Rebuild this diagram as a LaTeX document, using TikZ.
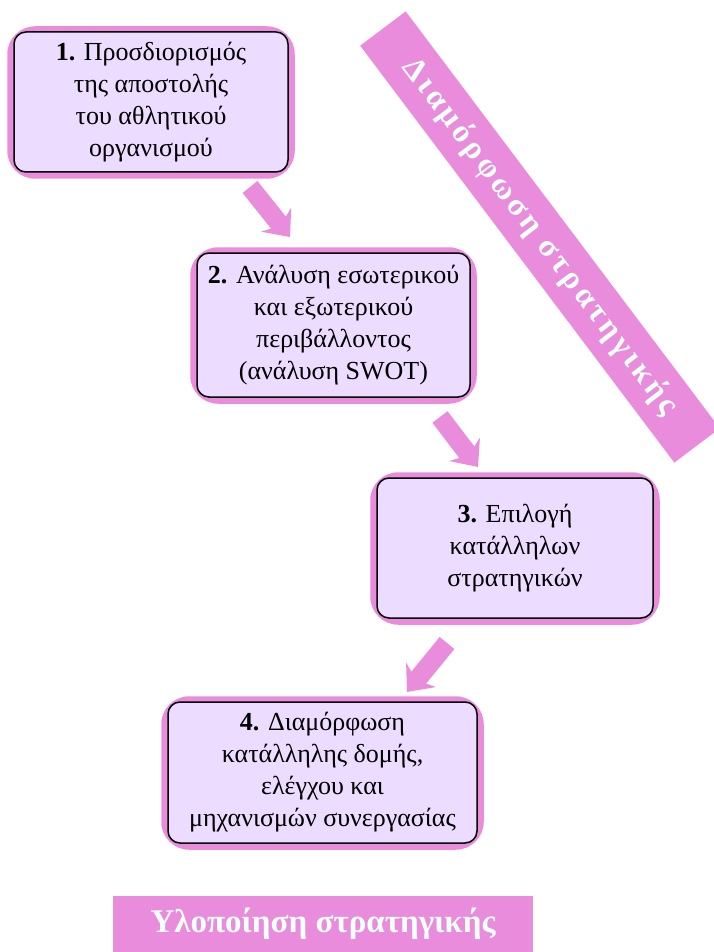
\documentclass[tikz,border=0pt]{standalone}
\usepackage{fontspec}
\setmainfont{Liberation Serif}
\newfontfamily\spacedfont[LetterSpace=12]{Liberation Serif}
\usetikzlibrary{arrows.meta,backgrounds}
\definecolor{orchidpink}{RGB}{233,140,220}
\definecolor{lavender}{RGB}{236,220,255}
\definecolor{palewhite}{RGB}{240,255,255}
\tikzset{
  stepbox/.style={draw=black, line width=1.5pt, fill=lavender, rounded corners=12pt,
    align=center, inner sep=0pt, font=\fontsize{26}{32}\selectfont},
  backing/.style={fill=orchidpink, rounded corners=28pt},
  flow/.style={orchidpink, line width=19pt, -{Stealth[length=22pt,width=38pt,inset=7pt]}},
  banner/.style={fill=orchidpink, text=palewhite, inner sep=0pt}
}
\begin{document}
\begin{tikzpicture}[x=1pt,y=1pt]
\useasboundingbox (0,0) rectangle (714,-952);
% the four steps
\node[stepbox, minimum width=274pt, minimum height=140pt] (mission) at (151,-102)
  {\textbf{1.} Προσδιορισμός\\της αποστολής\\του αθλητικού\\οργανισμού};
\node[stepbox, minimum width=273pt, minimum height=144pt] (swot) at (333.5,-325)
  {\textbf{2.} Ανάλυση εσωτερικού\\και εξωτερικού\\περιβάλλοντος\\(ανάλυση SWOT)};
\node[stepbox, minimum width=276pt, minimum height=140pt] (choice) at (515,-548)
  {\textbf{3.} Επιλογή\\κατάλληλων\\στρατηγικών};
\node[stepbox, minimum width=309pt, minimum height=141pt] (structure) at (322.5,-772.5)
  {\textbf{4.} Διαμόρφωση\\κατάλληλης δομής,\\ελέγχου και\\μηχανισμών συνεργασίας};
\begin{scope}[on background layer]
\foreach \n in {mission,swot,choice,structure}
  \fill[backing] ([shift={(-6pt,-6pt)}]\n.south west) rectangle ([shift={(6pt,5pt)}]\n.north east);
\end{scope}
% arrows between the steps
\coordinate (f1) at (250,-187); \coordinate (t1) at (290,-237);
\coordinate (f2) at (440,-417); \coordinate (t2) at (478,-467);
\coordinate (f3) at (447,-643); \coordinate (t3) at (407,-692);
\draw[flow] (f1) -- (t1);
\draw[flow] (f2) -- (t2);
\draw[flow] (f3) -- (t3);
% the two phases
\node[banner, rotate=-53, minimum width=522pt, minimum height=57pt,
  font=\spacedfont\bfseries\fontsize{32}{38}\selectfont] (formulation) at (540,-237) {Διαμόρφωση στρατηγικής};
\node[banner, minimum width=420pt, minimum height=57pt,
  font=\bfseries\fontsize{33}{38}\selectfont] (implementation) at (323,-924) {Υλοποίηση στρατηγικής};
\end{tikzpicture}
\end{document}
